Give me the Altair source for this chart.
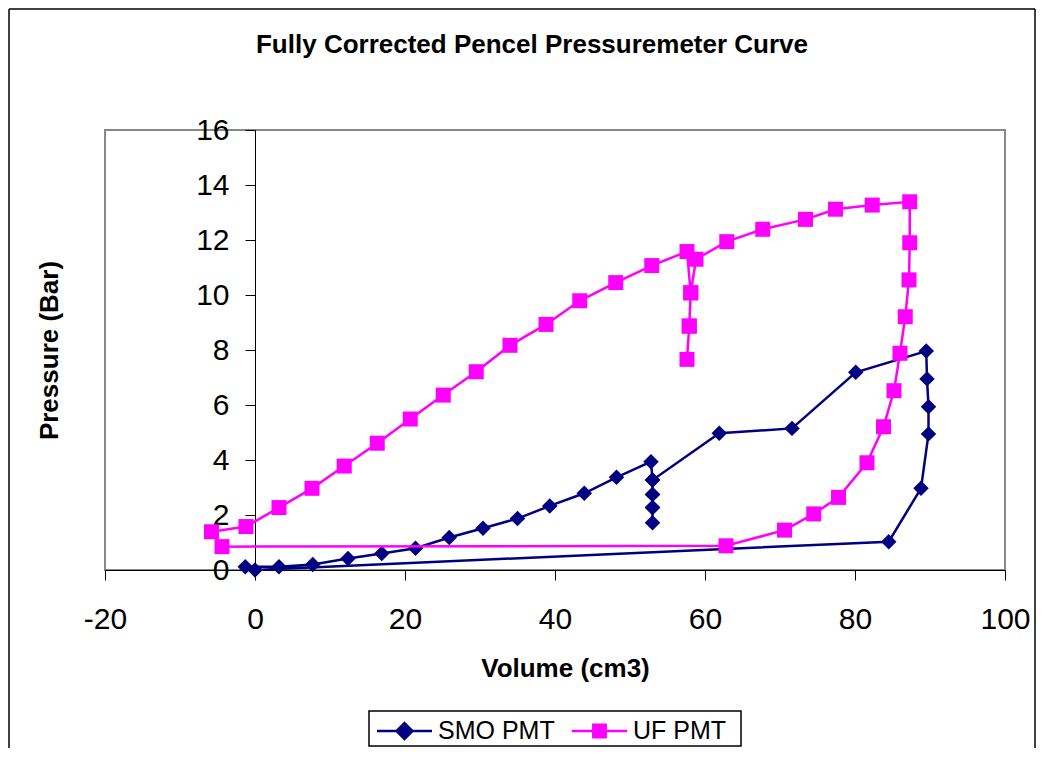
import altair as alt
import pandas as pd

# ---------------- data ----------------
series_names = ["SMO PMT", "UF PMT"]

smo_volume = [-1.3, 3.2, 7.7, 12.4, 16.9, 21.4, 25.9, 30.4, 35.0, 39.3, 43.9, 48.2,
              52.8, 53.0, 53.0, 53.0, 53.0, 53.0, 53.0, 53.0,
              61.9, 71.6, 80.1, 89.5, 89.6, 89.8, 89.8, 88.8, 84.5, 0.0]
smo_pressure = [0.12, 0.12, 0.20, 0.42, 0.60, 0.79, 1.18, 1.52, 1.87, 2.33, 2.79, 3.37,
                3.94, 3.27, 2.75, 2.27, 1.72, 2.27, 2.75, 3.27,
                4.97, 5.15, 7.19, 7.96, 6.95, 5.94, 4.95, 2.97, 1.03, 0.0]

uf_volume = [-5.8, -1.2, 3.2, 7.6, 11.9, 16.3, 20.7, 25.1, 29.5, 34.0, 38.8, 43.3,
             48.1, 52.9, 57.6, 58.1, 57.9, 57.6, 57.9, 58.1, 58.8,
             62.9, 67.7, 73.4, 77.4, 82.3, 87.3, 87.3, 87.2, 86.7, 86.0, 85.2,
             83.8, 81.6, 77.8, 74.5, 70.6, 62.8, -4.4]
uf_pressure = [1.39, 1.58, 2.27, 2.97, 3.78, 4.61, 5.49, 6.36, 7.21, 8.17, 8.93, 9.79,
               10.45, 11.07, 11.58, 10.08, 8.87, 7.66, 8.87, 10.08, 11.30,
               11.94, 12.39, 12.75, 13.12, 13.27, 13.39, 11.90, 10.55, 9.21, 7.88, 6.52,
               5.21, 3.90, 2.64, 2.04, 1.45, 0.88, 0.85]

x_ticks = [-20, 0, 20, 40, 60, 80, 100]
y_ticks = [0, 2, 4, 6, 8, 10, 12, 14, 16]

# ---------------- styling ----------------
FONT = "Liberation Sans"
NAVY = "#000080"
MAGENTA = "#FF00FF"

smo_df = pd.DataFrame({"Volume": smo_volume, "Pressure": smo_pressure,
                       "step": list(range(len(smo_volume))),
                       "Series": [series_names[0]] * len(smo_volume)})
uf_df = pd.DataFrame({"Volume": uf_volume, "Pressure": uf_pressure,
                      "step": list(range(len(uf_volume))),
                      "Series": [series_names[1]] * len(uf_volume)})

x_axis = alt.Axis(values=x_ticks, title="Volume (cm3)", grid=False,
                  domainColor="black", domainWidth=1, tickColor="black", tickWidth=1,
                  tickSize=10, labelFont=FONT, labelFontSize=30, labelColor="black",
                  labelPadding=24, labelFlush=False, labelOverlap=False,
                  labelExpr="'' + datum.value",
                  titleFont=FONT, titleFontSize=26, titleFontWeight="bold",
                  titleColor="black", titleX=460, titleY=98,
                  titleAlign="center", titleBaseline="middle")
y_axis = alt.Axis(values=y_ticks, title="Pressure (Bar)", offset=-150, grid=False,
                  domainColor="black", domainWidth=1, tickColor="black", tickWidth=1,
                  tickSize=10, labelFont=FONT, labelFontSize=30, labelColor="black",
                  labelPadding=16, labelFlush=False, labelOverlap=False,
                  labelBaseline="middle", labelExpr="'' + datum.value",
                  titleFont=FONT, titleFontSize=26, titleFontWeight="bold",
                  titleColor="black", titleAngle=270, titleX=-206, titleY=220,
                  titleAlign="center", titleBaseline="middle")

x_enc = alt.X("Volume:Q", scale=alt.Scale(domain=[-20, 100], nice=False, zero=False),
              axis=x_axis)
y_enc = alt.Y("Pressure:Q", scale=alt.Scale(domain=[0, 16], nice=False, zero=False),
              axis=y_axis)

SMO_SYMBOL = "M-2,0H2M0,-0.58L0.58,0L0,0.58L-0.58,0Z"
UF_SYMBOL = "M-2,0H2M-0.45,-0.45H0.45V0.45H-0.45Z"


def make_legend(path, color, lx):
    return alt.Legend(title=None, orient="none", legendX=lx, legendY=586,
                      direction="vertical", symbolType=path, symbolSize=756,
                      symbolStrokeWidth=2.5, symbolStrokeColor=color,
                      symbolFillColor=color, symbolOpacity=1, symbolOffset=13,
                      labelOffset=18.5, labelFont=FONT, labelFontSize=25,
                      labelColor="black", labelBaseline="middle", padding=0,
                      rowPadding=0)


smo_line = alt.Chart(smo_df).mark_line(color=NAVY, strokeWidth=2.5).encode(
    x=x_enc, y=y_enc, order="step:Q")
smo_pts = alt.Chart(smo_df).mark_point(shape="diamond", filled=True, size=240,
                                       opacity=1).encode(
    x=x_enc, y=y_enc,
    color=alt.Color("Series:N",
                    scale=alt.Scale(domain=[series_names[0]], range=[NAVY]),
                    legend=make_legend(SMO_SYMBOL, NAVY, 271.5)))

uf_line = alt.Chart(uf_df).mark_line(color=MAGENTA, strokeWidth=2.5).encode(
    x=x_enc, y=y_enc, order="step:Q")
uf_pts = alt.Chart(uf_df).mark_point(shape="square", filled=True, size=225,
                                     opacity=1).encode(
    x=x_enc, y=y_enc,
    color=alt.Color("Series:N",
                    scale=alt.Scale(domain=[series_names[1]], range=[MAGENTA]),
                    legend=make_legend(UF_SYMBOL, MAGENTA, 466.5)))

# decorations: legend box and outer chart frame
deco_df = pd.DataFrame({"k": [0]})
legend_box = alt.Chart(deco_df).mark_rect(fill="white", stroke="black",
                                          strokeWidth=1.5).encode(
    x=alt.value(264), x2=alt.value(636), y=alt.value(581), y2=alt.value(616))
frame_left = alt.Chart(deco_df).mark_rule(color="black", strokeWidth=1.5).encode(
    x=alt.value(-96), y=alt.value(-121), y2=alt.value(618))
frame_top = alt.Chart(deco_df).mark_rule(color="black", strokeWidth=1.5).encode(
    x=alt.value(-96), x2=alt.value(930), y=alt.value(-121))
frame_right = alt.Chart(deco_df).mark_rule(color="black", strokeWidth=1.5).encode(
    x=alt.value(930), y=alt.value(-121), y2=alt.value(618))

chart = alt.layer(
    legend_box, frame_left, frame_top, frame_right,
    smo_line, smo_pts, uf_line, uf_pts
).resolve_scale(color="independent").properties(
    width=900, height=440,
    autosize=alt.AutoSizeParams(type="none"),
    padding={"left": 97, "top": 122, "right": 31, "bottom": 178},
    title=alt.TitleParams(text="Fully Corrected Pencel Pressuremeter Curve",
                          font=FONT, fontSize=26, fontWeight="bold", color="black",
                          anchor="middle", dx=-23, offset=0, dy=50),
).configure_view(stroke="#888888", strokeWidth=2)

chart.save("out.html", embed_options={"renderer": "svg", "actions": False})
